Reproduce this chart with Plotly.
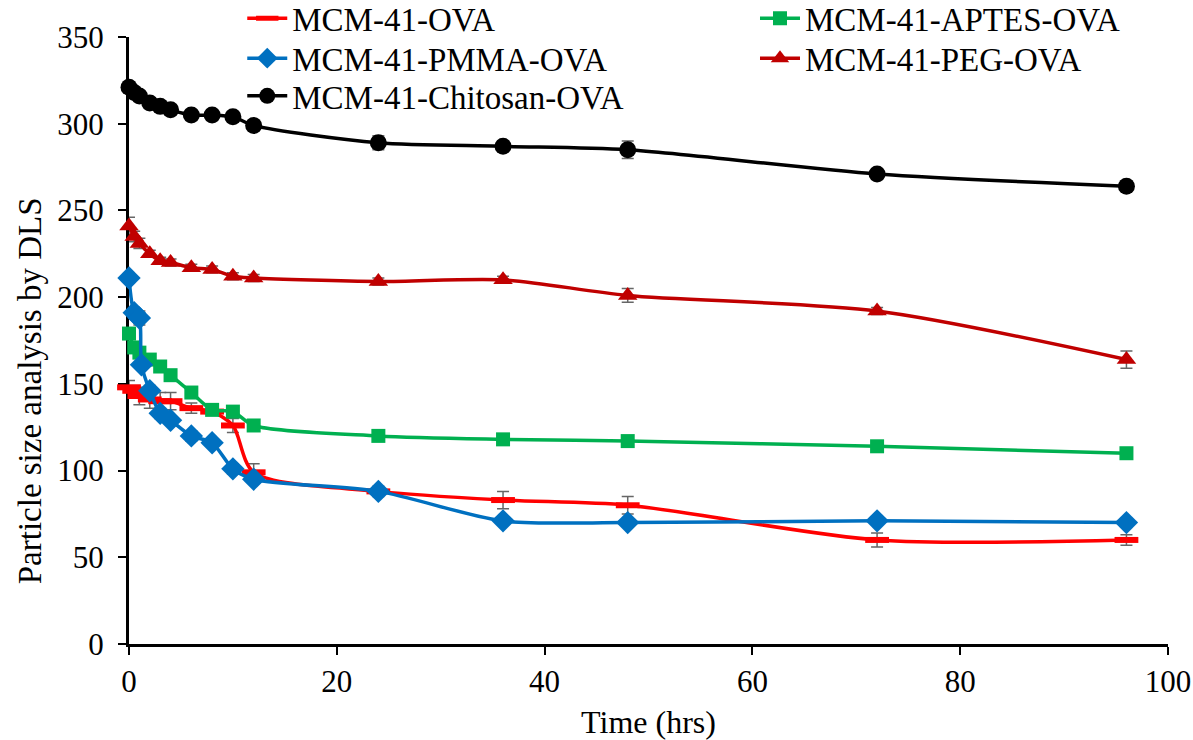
import plotly.graph_objects as go

# ---- data ----
t_ova = [0, 0.5, 1, 2, 3, 4, 6, 8, 10, 12, 24, 36, 48, 72, 96]
y_ova = [148, 146, 143, 141, 140, 140, 136, 134, 126, 99, 88, 83, 80, 60, 60]
e_ova = [4, 3, 5, 5, 5, 5, 3, 2, 4, 5, 2, 5, 5, 4, 3]

t_aptes = [0, 0.5, 1, 2, 3, 4, 6, 8, 10, 12, 24, 36, 48, 72, 96]
y_aptes = [179, 171, 168, 164, 160, 155, 145, 135, 134, 126, 120, 118, 117, 114, 110]
e_aptes = [3, 3, 3, 2, 2, 2, 2, 2, 2, 2, 2, 2, 2, 2, 2]

t_pmma = [0, 0.5, 1, 1.2, 2, 3, 4, 6, 8, 10, 12, 24, 36, 48, 72, 96]
y_pmma = [211, 191, 188, 161, 146, 133, 129, 120, 116, 101, 95, 88, 71, 70, 71, 70]
e_pmma = [2, 2, 4, 2, 3, 3, 2, 3, 2, 3, 2, 3, 2, 2, 2, 2]

t_peg = [0, 0.5, 1, 2, 3, 4, 6, 8, 10, 12, 24, 36, 48, 72, 96]
y_peg = [241, 235, 231, 225, 221, 220, 217, 216, 212, 211, 209, 210, 201, 192, 164]
e_peg = [5, 3, 3, 2, 2, 2, 2, 2, 2, 2, 2, 2, 4, 2, 5]

t_chit = [0, 0.5, 1, 2, 3, 4, 6, 8, 10, 12, 24, 36, 48, 72, 96]
y_chit = [321, 318, 316, 312, 310, 308, 305, 305, 304, 299, 289, 287, 285, 271, 264]
e_chit = [3, 2, 2, 2, 2, 2, 2, 2, 2, 2, 4, 2, 5, 2, 3]

names = ["MCM-41-OVA", "MCM-41-APTES-OVA", "MCM-41-PMMA-OVA",
         "MCM-41-PEG-OVA", "MCM-41-Chitosan-OVA"]

x_ticks = [0, 20, 40, 60, 80, 100]
y_ticks = [0, 50, 100, 150, 200, 250, 300, 350]

x_title = "Time (hrs)"
y_title = "Particle size analysis by DLS"

FONT = "Liberation Serif"
ERR_COLOR = "#666666"

series = [
    dict(t=t_ova, y=y_ova, e=e_ova, name=names[0], color="#FF0000",
         symbol="line-ew", size=17, mline=dict(color="#FF0000", width=6), legend="legend"),
    dict(t=t_aptes, y=y_aptes, e=e_aptes, name=names[1], color="#00B050",
         symbol="square", size=14, mline=dict(width=0), legend="legend2"),
    dict(t=t_pmma, y=y_pmma, e=e_pmma, name=names[2], color="#0070C0",
         symbol="diamond", size=18, mline=dict(width=0), legend="legend3"),
    dict(t=t_peg, y=y_peg, e=e_peg, name=names[3], color="#C00000",
         symbol="triangle-up", size=17, mline=dict(width=0), legend="legend4"),
    dict(t=t_chit, y=y_chit, e=e_chit, name=names[4], color="#000000",
         symbol="circle", size=17, mline=dict(width=0), legend="legend5"),
]

fig = go.Figure()
for s in series:
    fig.add_trace(go.Scatter(
        x=s["t"], y=s["y"], name=s["name"], mode="lines+markers",
        line=dict(color=s["color"], width=3.5, shape="spline", smoothing=0.8),
        marker=dict(symbol=s["symbol"], size=s["size"], color=s["color"], line=s["mline"]),
        error_y=dict(type="data", array=s["e"], visible=True, color=ERR_COLOR,
                     thickness=1.5, width=6),
        cliponaxis=False,
        legend=s["legend"],
        showlegend=True,
    ))

def leg(x, y):
    return dict(x=x, y=y, xanchor="left", yanchor="middle", visible=True,
                bgcolor="rgba(0,0,0,0)", font=dict(family=FONT, size=33),
                itemwidth=40)

col1, col2 = 0.109, 0.6025
row1, row2, row3 = 1.031, 0.965, 0.903

fig.update_layout(
    width=1193, height=740,
    showlegend=True,
    margin=dict(l=129, r=25, t=37, b=96, autoexpand=False),
    paper_bgcolor="white", plot_bgcolor="white",
    font=dict(family=FONT, size=31, color="black"),
    legend=leg(col1, row1),
    legend2=leg(col2, row1),
    legend3=leg(col1, row2),
    legend4=leg(col2, row2),
    legend5=leg(col1, row3),
    annotations=[dict(text=y_title, textangle=-90, xref="paper", yref="paper",
                      x=-0.0953, y=0.418, xanchor="center", yanchor="middle",
                      showarrow=False, font=dict(family=FONT, size=33, color="black"))],
)

fig.update_xaxes(
    range=[0, 100], tickvals=x_ticks, ticktext=[str(v) for v in x_ticks],
    showgrid=False, zeroline=False, showline=True, linecolor="black", linewidth=3,
    ticks="outside", ticklen=8, tickwidth=2, tickcolor="black",
    tickfont=dict(family=FONT, size=31), layer="below traces",
    title=dict(text=x_title, font=dict(family=FONT, size=32), standoff=13),
)
fig.update_yaxes(
    range=[0, 350], tickvals=y_ticks, ticktext=[str(v) for v in y_ticks],
    showgrid=False, zeroline=False, showline=True, linecolor="black", linewidth=3,
    ticks="outside", ticklen=8, tickwidth=2, tickcolor="black",
    tickfont=dict(family=FONT, size=31), ticklabelstandoff=8, layer="below traces",
)

fig.write_html("out.html", post_script="document.body.style.margin='0';",
               config={"displayModeBar": False})
